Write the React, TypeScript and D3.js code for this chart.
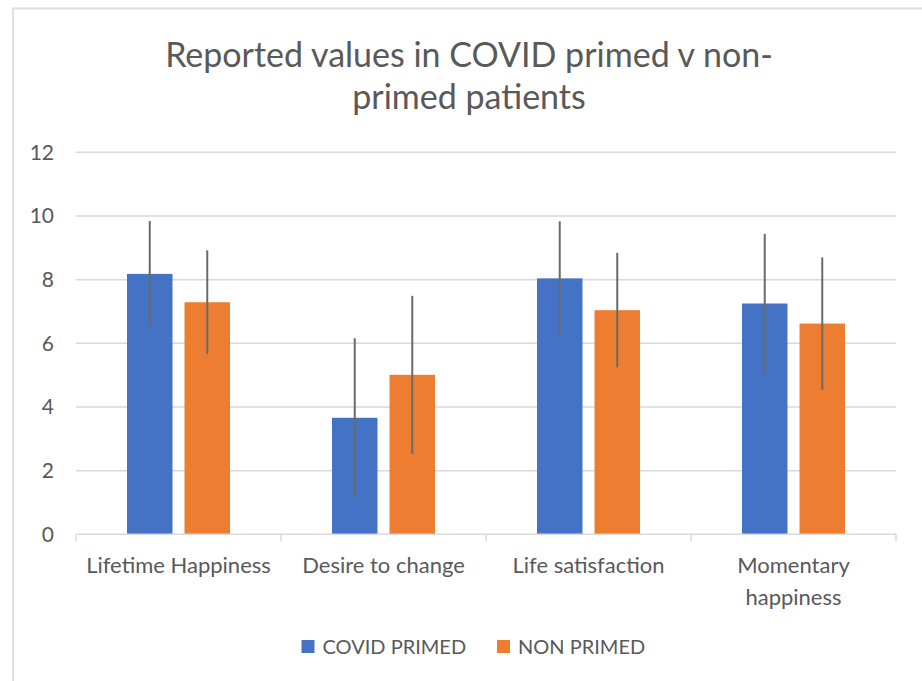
import React from "react";
import * as d3 from "d3";

const categories = ["Lifetime Happiness", "Desire to change", "Life satisfaction", "Momentary happiness"];
const categoryLines = [["Lifetime Happiness"], ["Desire to change"], ["Life satisfaction"], ["Momentary", "happiness"]];
const seriesNames = ["COVID PRIMED", "NON PRIMED"];
const covidPrimed = [8.18, 3.66, 8.04, 7.25];
const covidPrimedErr = [1.66, 2.5, 1.79, 2.19];
const nonPrimed = [7.29, 5.01, 7.04, 6.62];
const nonPrimedErr = [1.63, 2.48, 1.8, 2.08];
const yTicks = [0, 2, 4, 6, 8, 10, 12];
const titleLines = ["Reported values in COVID primed v non-", "primed patients"];

const colors = ["#4472C4", "#ED7D31"];
const W = 922;
const H = 681;
const FONT = "Lato, 'Open Sans', sans-serif";
const TEXT = "#595959";

export default function App() {
  const x = d3.scaleBand<string>().domain(categories).range([76, 896]).paddingInner(0).paddingOuter(0);
  const xs = d3
    .scaleBand<string>()
    .domain(seriesNames)
    .range([0, x.bandwidth()])
    .paddingInner(0.209)
    .paddingOuter(0.887);
  const y = d3.scaleLinear().domain([0, 12]).range([534.3, 152.3]);

  const series = [
    { name: seriesNames[0], values: covidPrimed, errs: covidPrimedErr, color: colors[0] },
    { name: seriesNames[1], values: nonPrimed, errs: nonPrimedErr, color: colors[1] },
  ];

  const boundaries = [...categories.map((c) => x(c) as number), 896];

  return (
    <svg
      width={W}
      height={H}
      style={{ position: "absolute", left: 0, top: 0, background: "#fff" }}
      fontFamily={FONT}
    >
      <rect x={0} y={0} width={W} height={H} fill="#fff" />
      {/* chart frame */}
      <path d={`M13,${H + 2} V8.5 H${W + 2}`} fill="none" stroke="#e0e0e0" strokeWidth={2} />

      {/* title */}
      {titleLines.map((t, i) => (
        <text key={i} x={469} y={67 + i * 42} textAnchor="middle" fontSize={34} fill={TEXT}>
          {t}
        </text>
      ))}

      {/* gridlines */}
      {yTicks.filter((t) => t > 0).map((t) => (
        <line key={t} x1={76} x2={896} y1={y(t)} y2={y(t)} stroke="#d9d9d9" strokeWidth={1.5} />
      ))}
      {/* y tick labels */}
      {yTicks.map((t) => (
        <text key={t} x={54} y={y(t)} dy="0.35em" textAnchor="end" fontSize={21} fill={TEXT}>
          {t}
        </text>
      ))}

      {/* bars */}
      {series.map((s) =>
        categories.map((c, i) => {
          const bx = (x(c) as number) + (xs(s.name) as number);
          return (
            <rect
              key={s.name + c}
              x={bx}
              y={y(s.values[i])}
              width={xs.bandwidth()}
              height={y(0) - y(s.values[i])}
              fill={s.color}
            />
          );
        })
      )}
      {/* error bars */}
      {series.map((s) =>
        categories.map((c, i) => {
          const cx = (x(c) as number) + (xs(s.name) as number) + xs.bandwidth() / 2;
          return (
            <line
              key={"e" + s.name + c}
              x1={cx}
              x2={cx}
              y1={y(s.values[i] + s.errs[i])}
              y2={y(s.values[i] - s.errs[i])}
              stroke="#6a6a6a"
              strokeWidth={2}
            />
          );
        })
      )}

      {/* x axis */}
      <line x1={76} x2={896} y1={y(0)} y2={y(0)} stroke="#d9d9d9" strokeWidth={1.5} />
      {boundaries.map((b, i) => (
        <line key={i} x1={b} x2={b} y1={y(0)} y2={y(0) + 7} stroke="#d9d9d9" strokeWidth={1.5} />
      ))}
      {categories.map((c, i) =>
        categoryLines[i].map((ln, j) => (
          <text
            key={c + j}
            x={(x(c) as number) + x.bandwidth() / 2}
            y={565 + j * 32}
            dy="0.35em"
            textAnchor="middle"
            fontSize={22}
            fill={TEXT}
          >
            {ln}
          </text>
        ))
      )}

      {/* legend */}
      {series.map((s, i) => {
        const lx = [301.5, 497][i];
        return (
          <g key={s.name}>
            <rect x={lx} y={640} width={13} height={13} fill={s.color} />
            <text x={lx + 21} y={647} dy="0.35em" fontSize={20} fill={TEXT}>
              {s.name}
            </text>
          </g>
        );
      })}
    </svg>
  );
}
